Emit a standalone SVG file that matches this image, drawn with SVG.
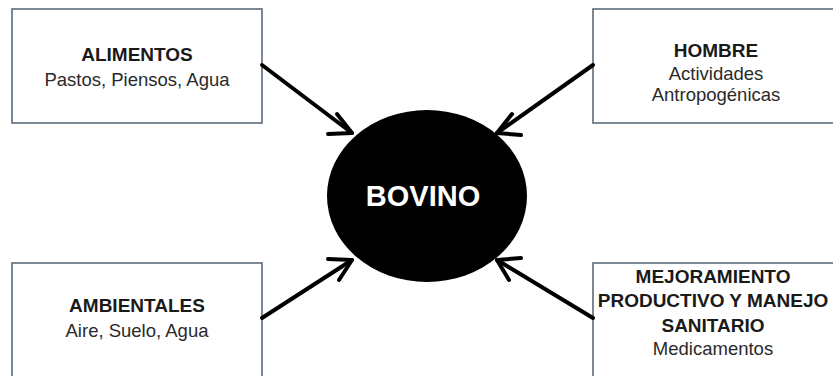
<svg xmlns="http://www.w3.org/2000/svg" width="833" height="376" viewBox="0 0 833 376">
<defs>
<style>
.box{fill:#fff;stroke:#5b6b7b;stroke-width:1.6}
.t{font-family:"Liberation Sans","Open Sans",sans-serif;font-size:18.5px;text-anchor:middle;fill:#2a2a2a}
.b{font-weight:bold;font-size:19px;fill:#1a1a1a}
.c{stroke:#000;stroke-width:4;fill:none;stroke-linecap:round;stroke-linejoin:round}
</style>
</defs>
<rect width="833" height="376" fill="#fff"/>
<g id="alimentos">
<rect class="box" x="12" y="9" width="250" height="114"/>
<text class="t b" x="137" y="61">ALIMENTOS</text>
<text class="t" x="137" y="86">Pastos, Piensos, Agua</text>
</g>
<g id="hombre">
<rect class="box" x="593" y="9" width="245" height="114"/>
<text class="t b" x="716" y="57">HOMBRE</text>
<text class="t" x="716" y="80">Actividades</text>
<text class="t" x="716" y="101">Antropogénicas</text>
</g>
<g id="ambientales">
<rect class="box" x="12" y="263" width="250" height="120"/>
<text class="t b" x="137" y="312">AMBIENTALES</text>
<text class="t" x="137" y="337">Aire, Suelo, Agua</text>
</g>
<g id="mejoramiento">
<rect class="box" x="593" y="263" width="245" height="120"/>
<text class="t b" x="713" y="283">MEJORAMIENTO</text>
<text class="t b" x="713" y="307">PRODUCTIVO Y MANEJO</text>
<text class="t b" x="713" y="332">SANITARIO</text>
<text class="t" x="713" y="355">Medicamentos</text>
</g>
<g id="bovino">
<ellipse cx="427" cy="196" rx="100" ry="86" fill="#000"/>
<text x="423" y="206" font-family="'Liberation Sans','Open Sans',sans-serif" font-size="29" font-weight="bold" fill="#fff" text-anchor="middle">BOVINO</text>
</g>
<g id="connectors">
<path class="c" d="M262,65 L352,133"/>
<path class="c" d="M337,114 L352,133 L328,134"/>
<path class="c" d="M593,65 L497,133"/>
<path class="c" d="M512,114 L497,133 L521,135"/>
<path class="c" d="M262,318 L352,260"/>
<path class="c" d="M328,259 L352,260 L339,280"/>
<path class="c" d="M593,318 L497,260"/>
<path class="c" d="M521,258 L497,260 L509,280"/>
</g>
</svg>
